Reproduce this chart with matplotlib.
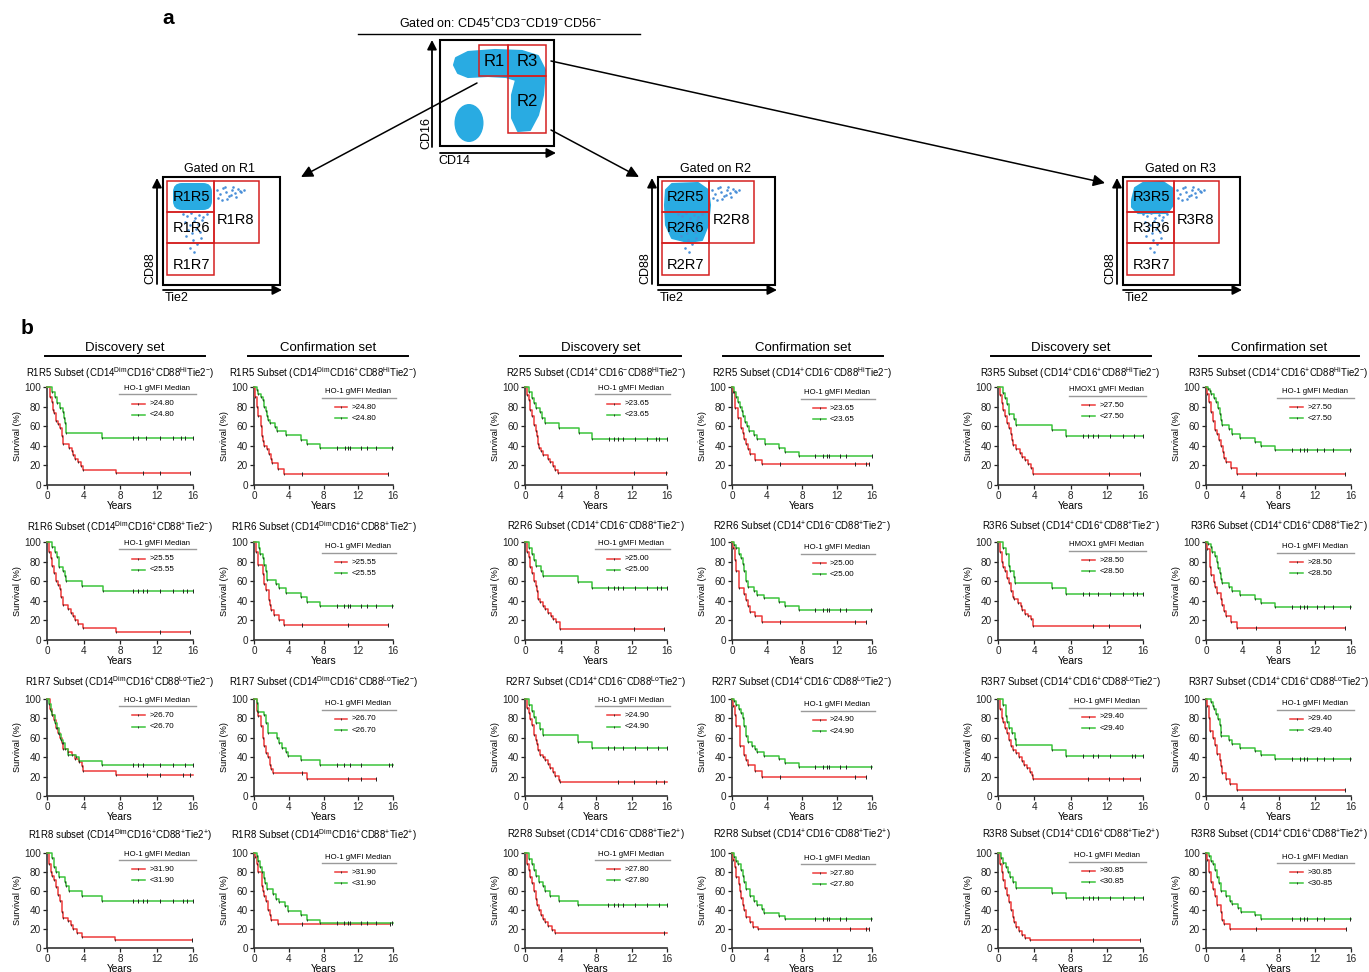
import numpy as np
import matplotlib
matplotlib.use('Agg')
import matplotlib.pyplot as plt
from matplotlib.patches import Rectangle, Ellipse, FancyBboxPatch, Polygon

plt.rcParams['font.family'] = ['Liberation Sans', 'DejaVu Sans']
plt.rcParams['mathtext.fontset'] = 'custom'
plt.rcParams['mathtext.rm'] = 'Liberation Sans'
plt.rcParams['mathtext.it'] = 'Liberation Sans:italic'
plt.rcParams['mathtext.bf'] = 'Liberation Sans:bold'

W, H = 1369, 972
RED = '#ee3a3a'
GRN = '#3cc43c'
BLUE = '#29abe2'
DOTC = '#4a8fd8'

# ---------------- data ----------------
REGIONS = ['R1', 'R1', 'R2', 'R2', 'R3', 'R3']
SUBREG = ['R5', 'R6', 'R7', 'R8']
CD14_SUP = ['Dim', 'Dim', '+', '+', '+', '+']
CD16_SUP = ['+', '+', '-', '-', '+', '+']
CD88_SUP = ['Hi', '+', 'Lo', '+']
TIE2_SUP = ['-', '-', '-', '+']
SET_NAMES = ['Discovery set', 'Confirmation set'] * 3
THRESH = [
    ['24.80', '24.80', '23.65', '23.65', '27.50', '27.50'],
    ['25.55', '25.55', '25.00', '25.00', '28.50', '28.50'],
    ['26.70', '26.70', '24.90', '24.90', '29.40', '29.40'],
    ['31.90', '31.90', '27.80', '27.80', '30.85', '30-85'],
]
HI_THRESH_LAST = '30.85'
LEG_TITLES = [
    ['HO-1 gMFI Median'] * 4 + ['HMOX1 gMFI Median', 'HO-1 gMFI Median'],
    ['HO-1 gMFI Median'] * 4 + ['HMOX1 gMFI Median', 'HO-1 gMFI Median'],
    ['HO-1 gMFI Median'] * 6,
    ['HO-1 gMFI Median'] * 6,
]

# red (> median) curves: drop times, survival after drop, end of follow-up, censor times
RED_T = [
    [0.3,0.5,0.7,0.8,1.0,1.2,1.4,1.6,1.7,2.4,2.7,2.9,3.1,3.4,3.7,3.9,7.6],
    [0.1,0.3,0.5,0.8,0.9,1.0,1.2,1.5,1.7,1.9,2.1,2.8,3.4],
    [0.2,0.4,0.6,0.8,1.0,1.2,1.4,1.5,1.6,1.8,2.0,2.6,2.8,3.1,3.4,3.7],
    [0.1,0.3,0.7,1.0,1.2,1.4,1.6,1.8,2.0,2.6,3.4],
    [0.2,0.4,0.6,0.8,1.0,1.2,1.4,1.5,1.6,2.0,2.4,2.7,3.0,3.3,3.6,3.9],
    [0.1,0.3,0.5,0.8,1.0,1.2,1.4,1.7,1.9,2.0,2.2,2.8,3.4],
    [0.2,0.4,0.6,0.8,1.0,1.2,1.4,1.5,1.7,2.3,2.6,2.8,3.1,3.4,3.9,7.6],
    [0.2,0.5,1.0,1.2,1.4,1.7,1.8,2.0,2.3,2.9,3.4],
    [0.2,0.4,0.6,0.8,1.0,1.2,1.4,1.5,1.7,2.0,2.3,2.6,2.9,3.2,3.5,3.9],
    [0.1,0.3,0.4,0.8,1.4,1.6,1.8,2.0,2.6,3.4],
    [0.2,0.4,0.6,0.8,1.0,1.2,1.4,1.6,1.8,2.2,2.5,2.7,3.0,3.3,3.6,3.9],
    [0.1,0.4,0.6,0.9,1.0,1.2,1.6,1.8,2.0,2.2,2.8,3.4],
    [0.3,0.5,0.8,1.0,1.2,1.4,1.6,1.8,2.3,2.7,3.1,3.5,3.8,3.9,7.6],
    [0.3,0.5,0.8,1.0,1.2,1.4,1.6,1.8,2.0,2.2,6.1],
    [0.2,0.4,0.6,0.8,1.0,1.2,1.4,1.5,1.7,2.0,2.3,2.6,2.8,3.1,3.4,3.8,3.9],
    [0.1,0.3,0.5,0.9,1.4,1.6,1.8,2.6,3.4],
    [0.2,0.4,0.6,0.8,1.0,1.2,1.4,1.6,2.0,2.3,2.6,2.9,3.2,3.5,3.8,3.9],
    [0.1,0.3,0.4,0.8,1.0,1.2,1.5,1.6,1.8,2.2,2.6,3.4],
    [0.2,0.4,0.6,0.8,1.0,1.2,1.4,1.6,1.7,2.3,2.6,2.9,3.3,3.8,7.5],
    [0.1,0.3,0.5,0.9,1.0,1.2,1.4,1.6,1.8,2.0,2.8],
    [0.2,0.4,0.6,0.8,1.0,1.2,1.4,1.6,1.8,2.0,2.3,2.6,3.0,3.4],
    [0.1,0.3,0.5,0.8,0.9,1.0,1.2,1.4,1.6,2.0,2.4,3.0],
    [0.2,0.4,0.6,0.8,1.0,1.2,1.4,1.6,1.8,2.0,2.3,2.6,3.0,3.5],
    [0.1,0.3,0.5,0.8,1.0,1.2,1.6,1.8,2.0,2.6],
]
RED_S = [
    [90,85,77,73,65,62,58,50,42,38,35,31,27,23,19,15,12],
    [90,80,70,60,50,45,40,37,32,27,22,16,11],
    [92,87,77,70,61,55,50,42,38,35,31,27,23,19,15,12],
    [95,79,68,58,53,47,42,37,32,26,21],
    [92,84,77,70,63,58,52,46,41,37,33,29,25,21,17,11],
    [93,85,74,65,56,52,46,40,34,28,23,17,11],
    [90,84,76,68,60,56,52,44,36,32,28,24,20,16,12,8],
    [90,77,67,57,51,41,36,31,26,20,15],
    [90,85,75,68,60,55,50,42,39,35,32,28,25,21,18,11],
    [94,82,70,53,47,41,35,29,24,18],
    [90,80,75,70,63,58,50,44,42,38,35,31,27,24,21,14],
    [93,74,66,59,54,48,42,36,30,24,18,12],
    [90,83,78,70,65,60,55,48,45,42,38,35,31,26,22],
    [88,82,72,60,52,44,40,32,28,24,18],
    [91,86,79,73,63,58,54,47,42,40,37,33,29,25,21,17,14],
    [93,83,72,52,42,37,32,26,20],
    [90,80,76,70,65,58,52,47,44,40,36,32,29,25,22,18],
    [93,80,67,60,53,43,37,31,24,18,12,6],
    [88,80,76,72,64,56,50,38,32,28,24,20,16,12,8],
    [96,88,80,65,60,55,50,40,35,30,25],
    [88,82,75,68,60,52,45,40,35,31,27,23,19,16],
    [93,85,75,67,60,53,45,40,33,27,22,20],
    [88,80,72,63,56,48,40,33,27,22,18,14,11,8],
    [93,80,70,62,55,45,38,30,25,20],
]
RED_END = [15.7,15.4,16.0,15.7,15.7,15.3, 15.7,15.4,15.7,15.3,15.7,15.3,
           16.0,14.0,16.0,15.3,15.7,15.3, 15.9,15.7,16.0,15.7,15.7,15.5]
RED_C = [
    [10.5,12.4,15.7],[5.5,15.4],[12.3,15.9],[5.5,14.0,15.3,15.7],[12.3,15.7],[5.5,15.3],
    [12.4,15.7],[5.5,10.8,15.4],[12.3,15.7],[5.5,14.0,15.3],[10.5,12.3,15.7],[5.5,15.3],
    [11.0,12.4,14.9,15.7],[5.5,10.8,12.3,14.0],[10.5,12.3,14.8,15.7],[5.5,14.0,15.3],[9.9,12.3,13.8,15.7],[15.3],
    [15.9],[5.5,15.7],[15.7],[13.5,15.3,15.7],[10.5,15.7],[5.5,15.5],
]

# green (< median) curves
GRN_T = [
    [0.5,0.9,1.1,1.4,1.7,1.9,2.0,2.1,6.0],
    [0.3,0.5,0.8,1.0,1.2,1.4,1.5,1.6,1.8,2.4,2.7,3.7,5.4,6.1,7.6],
    [0.4,0.8,1.0,1.2,1.7,1.9,2.3,3.8,6.1,7.6],
    [0.2,0.4,0.7,0.9,1.1,1.3,1.5,1.7,1.9,2.5,2.8,3.8,5.4,6.1,7.6],
    [0.5,0.8,1.0,1.2,1.8,2.0,6.0,7.5],
    [0.2,0.4,0.6,0.9,1.1,1.3,1.5,1.6,1.8,2.5,2.9,3.7,5.4,6.1,7.6],
    [0.5,0.9,1.1,1.3,1.8,2.0,2.1,3.8,6.1],
    [0.6,0.7,1.0,1.2,1.4,1.5,2.5,2.9,3.7,5.4,6.1,7.6],
    [0.5,0.8,1.0,1.2,1.8,2.0,6.0,7.5],
    [0.2,0.5,0.8,1.0,1.2,1.4,1.6,1.8,2.5,2.9,3.7,5.4,6.1,7.6],
    [0.6,0.9,1.2,1.3,1.8,1.9,6.0,7.5],
    [0.2,0.5,0.7,1.0,1.2,1.3,1.5,1.6,1.8,2.5,2.9,3.7,5.4,6.1,7.6],
    [0.2,0.4,0.6,0.9,1.1,1.3,1.5,1.8,2.0,2.3,3.2,3.5,6.0],
    [0.3,0.5,1.1,1.4,1.6,2.6,2.9,3.2,3.7,3.9,5.4,7.6],
    [0.5,0.8,1.0,1.2,1.7,2.0,6.0,7.5],
    [0.2,0.5,0.8,1.0,1.2,1.4,1.6,1.8,2.3,2.6,2.9,3.7,5.4,6.1,7.6],
    [0.5,0.9,1.0,1.2,1.5,1.9,2.0,6.0,7.5],
    [0.6,0.8,0.9,1.1,1.3,1.5,1.6,1.7,2.5,2.9,3.7,5.4,6.1,7.6],
    [0.5,0.8,1.0,1.3,2.0,2.1,2.4,3.8,6.0],
    [0.3,0.5,0.7,0.9,1.1,1.3,1.5,2.2,2.5,2.9,3.6,3.9,5.4,6.1,7.6],
    [0.5,0.8,1.0,1.2,1.6,2.0,2.3,2.8,3.8,6.0],
    [0.2,0.4,0.7,1.0,1.2,1.4,1.6,2.0,2.5,2.9,3.4,3.7,5.4,6.1],
    [0.3,0.6,0.9,1.1,1.3,1.7,2.0,6.0,7.5],
    [0.3,0.5,0.8,1.0,1.2,1.4,1.6,2.2,2.6,2.9,3.5,3.9,5.4,6.1],
]
GRN_S = [
    [95,90,84,79,74,68,63,53,48],
    [97,93,90,87,80,75,70,66,63,59,55,51,46,42,38],
    [95,89,84,79,74,68,63,58,53,47],
    [95,90,85,80,75,70,64,60,55,51,47,42,38,34,30],
    [94,89,83,72,67,61,56,50],
    [98,96,93,89,85,79,72,66,61,57,52,48,44,40,36],
    [95,90,85,75,70,65,60,55,50],
    [94,88,84,77,70,61,57,53,48,44,39,35],
    [94,88,82,76,70,65,59,53],
    [97,94,88,84,78,70,60,54,50,46,43,39,35,31],
    [94,88,76,70,64,58,53,47],
    [98,95,90,86,80,73,68,62,58,54,50,46,42,38,34],
    [95,88,83,75,70,64,58,55,48,42,40,36,32],
    [96,87,83,75,65,60,55,50,45,41,37,32],
    [94,88,81,75,69,63,56,50],
    [98,94,90,86,80,72,62,56,52,48,45,41,38,34,30],
    [94,82,76,70,65,59,53,47,41],
    [97,93,90,85,79,73,66,62,58,54,50,46,42,38],
    [95,85,80,75,70,65,60,55,50],
    [97,92,85,80,74,68,62,57,52,48,44,39,35,30,26],
    [94,88,82,76,70,65,60,55,50,45],
    [96,92,88,82,76,70,62,55,50,45,41,37,34,31],
    [95,90,85,80,75,70,63,58,53],
    [97,92,88,82,75,68,60,55,50,46,42,38,35,31],
]
GRN_END = [16.0] * 24
GRN_C = [
    [9.4,10.0,10.8,12.4,13.8,14.7,15.1,16.0],
    [9.5,10.5,10.8,11.1,12.3,13.0,14.0,15.9],
    [9.5,10.0,10.5,11.0,12.4,13.8,14.8,15.1,16.0],
    [9.5,10.4,10.8,11.1,12.3,13.0,16.0],
    [9.4,9.9,10.5,11.0,12.4,13.8,15.0,16.0],
    [9.5,10.4,10.8,11.1,12.3,13.0,14.0,15.9],
    [9.4,10.0,10.5,11.0,12.4,13.8,14.9,15.3,16.0],
    [9.5,10.4,10.8,11.1,12.3,13.0,14.0,15.9],
    [9.4,10.0,10.5,11.0,12.4,13.8,14.9,15.3,16.0],
    [9.5,10.4,10.8,11.1,12.3,13.0,15.9],
    [9.4,10.0,11.0,12.4,13.8,14.9,15.3,16.0],
    [9.5,10.4,10.8,11.1,12.3,13.0,14.0,15.9],
    [9.4,10.0,10.5,12.4,13.8,15.1,16.0],
    [9.5,10.4,11.1,12.3,15.5,15.9],
    [9.4,10.0,11.0,12.4,13.8,15.0,16.0],
    [9.5,10.4,10.8,11.1,12.3,13.0,15.9],
    [9.4,10.5,11.0,12.4,14.8,15.1,16.0],
    [9.5,10.4,10.8,11.1,12.3,13.0,14.0,15.9],
    [9.4,10.0,10.5,11.0,12.4,13.8,14.9,15.3,16.0],
    [9.5,10.4,10.8,11.1,12.3,13.0,14.0,15.9],
    [9.4,10.0,10.5,11.0,12.4,13.8,15.1,16.0],
    [9.5,10.4,10.8,11.1,12.3,13.0,15.9],
    [9.4,10.0,10.5,11.0,12.4,13.8,15.0,16.0],
    [9.5,10.4,10.8,11.1,12.3,13.0,15.9],
]

X_TICKS = [0, 4, 8, 12, 16]
Y_TICKS = [0, 20, 40, 60, 80, 100]

# flow schematic text
FLOW_LABELS = [['R1R5', 'R1R6', 'R1R7', 'R1R8'],
               ['R2R5', 'R2R6', 'R2R7', 'R2R8'],
               ['R3R5', 'R3R6', 'R3R7', 'R3R8']]
FLOW_GATED = ['Gated on R1', 'Gated on R2', 'Gated on R3']
DOT_RX = [54,57,60,63,66,69,72,75,78,55,59,64,68,73,77,62,70,81]
DOT_RY = [190,194,188,192,196,190,193,189,192,198,200,199,195,197,191,187,187,190]
DOT_BX = [20,24,28,32,36,40,44,22,27,31,35,39,25,29,33,37,30,34,27,31,38,23]
DOT_BY = [214,216,213,218,215,217,214,222,225,221,224,220,230,233,229,232,240,244,248,252,238,236]

# ---------------- layout (pixels) ----------------
COL_X0 = [47, 254, 525, 732, 998, 1206]
COL_X1 = [193, 393, 667, 872, 1143, 1351]
ROW_TOP = [387, 542, 699, 853]
ROW_BOT = [485, 640, 796, 948]
TITLE_Y = [373, 527, 682, 835]
LEG_Y0 = [0.985, 0.95, 0.985, 0.94, 0.97, 0.95]
HEAD_LINES = [(45, 205), (248, 408), (520, 681), (723, 883), (991, 1151), (1199, 1359)]

fig = plt.figure(figsize=(W / 100, H / 100), dpi=100)
ov = fig.add_axes([0, 0, 1, 1])
ov.set_xlim(0, W)
ov.set_ylim(H, 0)
ov.axis('off')


def arrow(x0, y0, x1, y1, lw=1.3, hl=0.55, hw=0.28):
    ov.annotate('', xy=(x1, y1), xytext=(x0, y0),
                arrowprops=dict(arrowstyle=f'-|>,head_length={hl},head_width={hw}',
                                lw=lw, color='black', shrinkA=0, shrinkB=0))


# ---- panel a ----
ov.text(168, 18, 'a', fontsize=15, fontweight='bold', ha='center', va='center')
ov.text(27, 328, 'b', fontsize=15, fontweight='bold', ha='center', va='center')
ov.text(500, 24, r'Gated on: CD45$^{+}$CD3$^{-}$CD19$^{-}$CD56$^{-}$', fontsize=9,
        ha='center', va='center')
ov.plot([358, 640], [34, 34], color='black', lw=1.0)

# main plot
banana = [(456, 58), (468, 52), (495, 50), (522, 51), (538, 56), (545, 70), (543, 95),
          (538, 115), (530, 130), (518, 131), (512, 118), (512, 95), (516, 80), (506, 77),
          (488, 76), (468, 77), (458, 73), (454, 65)]
ov.add_patch(Polygon(banana, closed=True, facecolor=BLUE, edgecolor=BLUE, lw=1.5,
                     joinstyle='round'))
ov.add_patch(Ellipse((469, 123), 29, 38, facecolor=BLUE, edgecolor='none'))
ov.add_patch(Rectangle((440, 40), 114, 106, fill=False, lw=1.5, edgecolor='black'))
for (gx, gy, gw, gh) in [(479, 45, 29, 31), (508, 45, 38, 31), (508, 76, 38, 57)]:
    ov.add_patch(Rectangle((gx, gy), gw, gh, fill=False, lw=1.1, edgecolor='#d42020'))
ov.text(494, 62, 'R1', fontsize=12, ha='center', va='center')
ov.text(527, 62, 'R3', fontsize=12, ha='center', va='center')
ov.text(527, 101, 'R2', fontsize=12, ha='center', va='center')
arrow(432, 147, 432, 40)
arrow(440, 153, 556, 153)
ov.text(426, 133, 'CD16', fontsize=9, rotation=90, ha='center', va='center')
ov.text(438, 161, 'CD14', fontsize=9, ha='left', va='center')

# connecting arrows
arrow(477, 83, 301, 177, lw=1.1, hl=0.7, hw=0.35)
arrow(551, 130, 639, 177, lw=1.1, hl=0.7, hw=0.35)
arrow(551, 61, 1105, 183, lw=1.1, hl=0.7, hw=0.35)

# sub flow plots
FLOW_X0 = [163, 658, 1123]
for k, x0 in enumerate(FLOW_X0):
    if k == 0:
        ov.add_patch(FancyBboxPatch((x0 + 12, 185), 35, 23,
                                    boxstyle='round,pad=2,rounding_size=9',
                                    facecolor=BLUE, edgecolor='none'))
    elif k == 1:
        pts = [(8, 190), (14, 184), (40, 183), (50, 190), (52, 205), (50, 225), (44, 240),
               (30, 242), (14, 238), (8, 225), (7, 205)]
        ov.add_patch(Polygon([(x0 + a, b) for a, b in pts], closed=True,
                             facecolor=BLUE, edgecolor=BLUE, lw=1.5, joinstyle='round'))
    else:
        pts = [(9, 200), (12, 188), (20, 183), (40, 182), (49, 188), (50, 205), (44, 213),
               (15, 213), (9, 207)]
        ov.add_patch(Polygon([(x0 + a, b) for a, b in pts], closed=True,
                             facecolor=BLUE, edgecolor=BLUE, lw=1.5, joinstyle='round'))
    ov.scatter([x0 + d for d in DOT_RX], DOT_RY, s=3.5, color=DOTC, lw=0, zorder=3)
    ov.scatter([x0 + d for d in DOT_BX], DOT_BY, s=3.5, color=DOTC, lw=0, zorder=3)
    ov.add_patch(Rectangle((x0, 177), 117, 108, fill=False, lw=1.5, edgecolor='black',
                           zorder=4))
    for (gx, gy, gw, gh) in [(4, 181, 47, 31), (4, 212, 47, 31), (4, 243, 47, 32),
                             (51, 181, 45, 62)]:
        ov.add_patch(Rectangle((x0 + gx, gy), gw, gh, fill=False, lw=1.1,
                               edgecolor='#d42020', zorder=4))
    labs = FLOW_LABELS[k]
    ov.text(x0 + 28, 197, labs[0], fontsize=10.5, ha='center', va='center', zorder=5)
    ov.text(x0 + 28, 228, labs[1], fontsize=10.5, ha='center', va='center', zorder=5)
    ov.text(x0 + 28, 265, labs[2], fontsize=10.5, ha='center', va='center', zorder=5)
    ov.text(x0 + 73, 220, labs[3], fontsize=10.5, ha='center', va='center', zorder=5)
    ov.text(x0 + 57, 169, FLOW_GATED[k], fontsize=9, ha='center', va='center')
    arrow(x0 - 6, 284, x0 - 6, 178)
    arrow(x0, 290, x0 + 119, 290)
    ov.text(x0 - 13, 268, 'CD88', fontsize=9, rotation=90, ha='center', va='center')
    ov.text(x0 + 2, 298, 'Tie2', fontsize=9, ha='left', va='center')

# ---- panel b headers ----
for (hx0, hx1), name in zip(HEAD_LINES, SET_NAMES):
    ov.text((hx0 + hx1) / 2, 348, name, fontsize=9.5, ha='center', va='center')
    ov.plot([hx0, hx1], [356, 356], color='black', lw=1.4)


def add_px_axes(x0, x1, ytop, ybot):
    return fig.add_axes([x0 / W, 1 - ybot / H, (x1 - x0) / W, (ybot - ytop) / H])


def draw_curve(ax, t, s, end, cens, color):
    tt = np.concatenate([[0.0], np.asarray(t, float), [end]])
    ss = np.concatenate([[100.0], np.asarray(s, float), [s[-1]]])
    ax.step(tt, ss, where='post', color=color, lw=1.1, clip_on=False, zorder=3)
    ax.plot(t, s, ls='none', marker='|', ms=2.0, mew=0.6, color='#222222',
            clip_on=False, zorder=4)
    c = np.asarray(cens, float)
    idx = np.searchsorted(tt, c, side='right') - 1
    ax.plot(c, ss[idx], ls='none', marker='|', ms=3.0, mew=0.7, color='#222222',
            clip_on=False, zorder=4)


for r in range(4):
    for c in range(6):
        i = r * 6 + c
        ax = add_px_axes(COL_X0[c], COL_X1[c], ROW_TOP[r], ROW_BOT[r])
        ax.set_xlim(0, 16)
        ax.set_ylim(0, 100)
        for sp in ['top', 'right']:
            ax.spines[sp].set_visible(False)
        for sp in ['left', 'bottom']:
            ax.spines[sp].set_linewidth(1.2)
            ax.spines[sp].set_color('#333333')
        ax.set_xticks(X_TICKS)
        ax.set_yticks(Y_TICKS)
        ax.tick_params(labelsize=7.2, length=3, width=0.9, pad=1.2, colors='#222222')
        ax.set_ylabel('Survival (%)', fontsize=6.6, labelpad=1.5)
        ax.set_xlabel('Years', fontsize=7.4, labelpad=0.3)
        ax.patch.set_alpha(0)

        sub = 'subset' if (r == 3 and c == 0) else 'Subset'
        title = (f'{REGIONS[c]}{SUBREG[r]} {sub} (CD14$^{{\\mathrm{{{CD14_SUP[c]}}}}}$'
                 f'CD16$^{{{CD16_SUP[c]}}}$CD88$^{{\\mathrm{{{CD88_SUP[r]}}}}}$'
                 f'Tie2$^{{{TIE2_SUP[r]}}}$)')
        title = title.replace('\\mathrm{+}', '+').replace('\\mathrm{-}', '-')
        ov.text((COL_X0[c] + COL_X1[c]) / 2, TITLE_Y[r], title, fontsize=6.9,
                ha='center', va='center')

        draw_curve(ax, RED_T[i], RED_S[i], RED_END[i], RED_C[i], RED)
        draw_curve(ax, GRN_T[i], GRN_S[i], GRN_END[i], GRN_C[i], GRN)

        # legend
        y0 = LEG_Y0[c]
        tr = ax.transAxes
        ax.text(0.75, y0, LEG_TITLES[r][c], transform=tr, ha='center', va='center',
                fontsize=5.6)
        ax.plot([0.49, 1.02], [y0 - 0.06, y0 - 0.06], transform=tr, color='#9a9a9a',
                lw=1.0, clip_on=False)
        hi_lab = THRESH[r][c] if not (r == 3 and c == 5) else HI_THRESH_LAST
        for yy, col, lab in [(y0 - 0.155, RED, '>' + hi_lab),
                             (y0 - 0.27, GRN, '<' + THRESH[r][c])]:
            ax.plot([0.58, 0.67], [yy, yy], transform=tr, color=col, lw=1.1,
                    clip_on=False)
            ax.plot([0.625], [yy], transform=tr, marker='|', ms=2, mew=0.6,
                    color='#222222', clip_on=False)
            ax.text(0.70, yy, lab, transform=tr, ha='left', va='center', fontsize=5.8)

fig.savefig('out.png', dpi=100)
